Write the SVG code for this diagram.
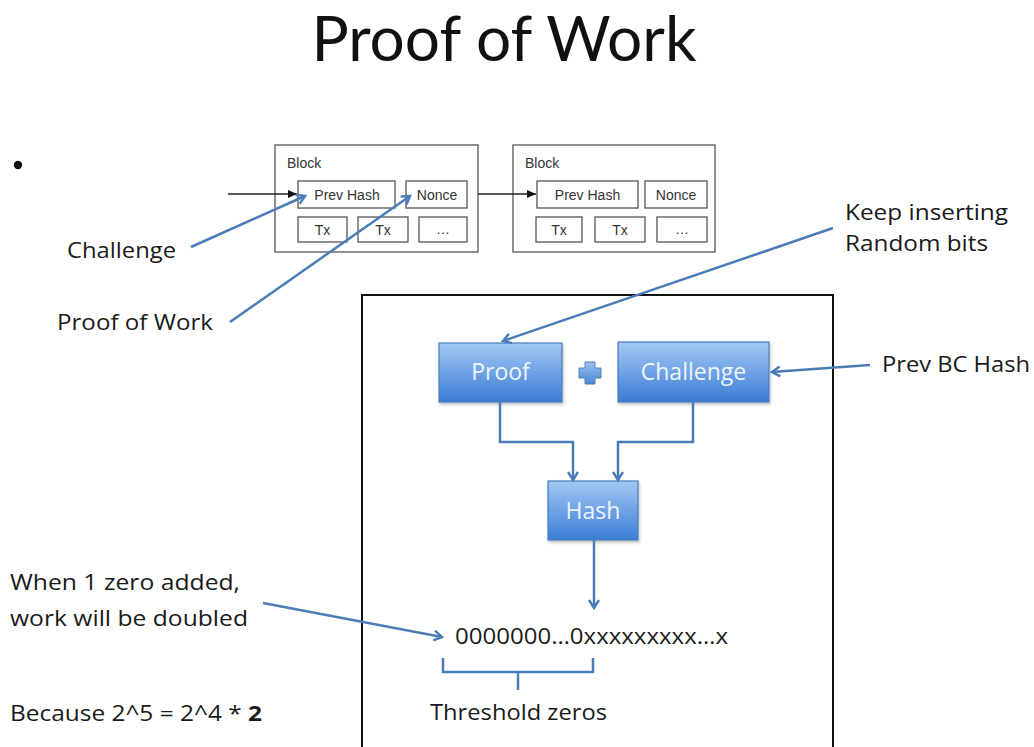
<svg xmlns="http://www.w3.org/2000/svg" width="1034" height="747" viewBox="0 0 1034 747">
  <style>
    .txt { font-family: "Open Sans", "Liberation Sans", sans-serif; fill: #1a1a1a; }
    .small { font-family: "Liberation Sans", Arial, sans-serif; font-size: 14px; fill: #333; }
    .blk { fill: #fff; stroke: #555; stroke-width: 1.3; }
    .box { fill: url(#boxGrad); stroke: #4a7ebb; stroke-width: 1.2; filter: url(#shadow); }
    .boxtxt { font-family: "Open Sans", "Liberation Sans", sans-serif; font-size: 23px; fill: #eef4fc; text-anchor: middle; }
    .blue { fill: none; stroke: #4a7cb8; stroke-width: 2.5; }
    .blk-line { fill: none; stroke: #222; stroke-width: 1.3; }
  </style>
  <defs>
    <linearGradient id="boxGrad" x1="0" y1="0" x2="0" y2="1">
      <stop offset="0" stop-color="#a3c7f2"/>
      <stop offset="0.5" stop-color="#6fa3e6"/>
      <stop offset="1" stop-color="#3c7bd3"/>
    </linearGradient>
    <linearGradient id="plusGrad" x1="0" y1="0" x2="0" y2="1">
      <stop offset="0" stop-color="#9cc2f0"/>
      <stop offset="1" stop-color="#4a85d6"/>
    </linearGradient>
    <filter id="shadow" x="-10%" y="-10%" width="130%" height="130%">
      <feDropShadow dx="1" dy="2" stdDeviation="1.5" flood-color="#000" flood-opacity="0.25"/>
    </filter>
    <marker id="openBlue" markerWidth="12" markerHeight="12" refX="9" refY="6" orient="auto" markerUnits="userSpaceOnUse">
      <path d="M1,1 L9,6 L1,11" fill="none" stroke="#4a7cb8" stroke-width="2.5"/>
    </marker>
    <marker id="solidBlack" markerWidth="10" markerHeight="10" refX="9" refY="5" orient="auto" markerUnits="userSpaceOnUse">
      <path d="M0,1 L9,5 L0,9 Z" fill="#111"/>
    </marker>
  </defs>

  <rect width="1034" height="747" fill="#fff"/>

  <!-- title -->
  <text x="504" y="61" font-family="Lato, 'Open Sans', sans-serif" font-size="62" fill="#111" text-anchor="middle" textLength="385" lengthAdjust="spacingAndGlyphs">Proof of Work</text>
  <circle cx="18" cy="165" r="4.2" fill="#111"/>

  <!-- block 1 -->
  <g id="block1">
    <rect class="blk" x="275" y="145" width="203" height="107"/>
    <text class="small" x="287" y="168" font-size="13">Block</text>
    <rect class="blk" x="298" y="181" width="97" height="27"/>
    <text class="small" x="347" y="200" text-anchor="middle">Prev Hash</text>
    <rect class="blk" x="406" y="181" width="61" height="27"/>
    <text class="small" x="437" y="200" text-anchor="middle">Nonce</text>
    <rect class="blk" x="298" y="217" width="49" height="25"/>
    <text class="small" x="322.5" y="235" text-anchor="middle">Tx</text>
    <rect class="blk" x="358" y="217" width="50" height="25"/>
    <text class="small" x="383" y="235" text-anchor="middle">Tx</text>
    <rect class="blk" x="419" y="217" width="48" height="25"/>
    <text class="small" x="443" y="234" text-anchor="middle" fill="#aaa" font-size="9">…</text>
  </g>

  <!-- block 2 -->
  <g id="block2">
    <rect class="blk" x="513" y="145" width="202" height="107"/>
    <text class="small" x="525" y="168" font-size="13">Block</text>
    <rect class="blk" x="537" y="181" width="101" height="27"/>
    <text class="small" x="587.5" y="200" text-anchor="middle">Prev Hash</text>
    <rect class="blk" x="645" y="181" width="62" height="27"/>
    <text class="small" x="676" y="200" text-anchor="middle">Nonce</text>
    <rect class="blk" x="536" y="217" width="46" height="25"/>
    <text class="small" x="559" y="235" text-anchor="middle">Tx</text>
    <rect class="blk" x="595" y="217" width="50" height="25"/>
    <text class="small" x="620" y="235" text-anchor="middle">Tx</text>
    <rect class="blk" x="657" y="217" width="50" height="25"/>
    <text class="small" x="682" y="234" text-anchor="middle" fill="#aaa" font-size="9">…</text>
  </g>

  <!-- outer frame -->
  <rect x="362" y="295" width="471" height="470" fill="none" stroke="#111" stroke-width="2"/>

  <!-- process boxes -->
  <g id="proof">
    <rect class="box" x="439" y="343" width="123" height="59"/>
    <text class="boxtxt" x="500.5" y="380">Proof</text>
  </g>
  <g id="plus">
    <path d="M585,362 h10 v6 h6 v10 h-6 v6 h-10 v-6 h-6 v-10 h6 Z" fill="url(#plusGrad)" stroke="#4a7ebb" stroke-width="1"/>
  </g>
  <g id="challenge">
    <rect class="box" x="618" y="342" width="151" height="60"/>
    <text class="boxtxt" x="693.5" y="380">Challenge</text>
  </g>
  <g id="hash">
    <rect class="box" x="548" y="481" width="90" height="59"/>
    <text class="boxtxt" x="593" y="519">Hash</text>
  </g>

  <!-- labels -->
  <g id="labels">
    <text class="txt" x="67" y="258" font-size="21" textLength="109" lengthAdjust="spacingAndGlyphs">Challenge</text>
    <text class="txt" x="57" y="330" font-size="21" textLength="156" lengthAdjust="spacingAndGlyphs">Proof of Work</text>
    <text class="txt" x="845" y="220" font-size="21" textLength="163" lengthAdjust="spacingAndGlyphs">Keep inserting</text>
    <text class="txt" x="845" y="251" font-size="21" textLength="143" lengthAdjust="spacingAndGlyphs">Random bits</text>
    <text class="txt" x="882" y="372" font-size="21" textLength="148" lengthAdjust="spacingAndGlyphs">Prev BC Hash</text>
    <text class="txt" x="455" y="644" font-size="21" textLength="273" lengthAdjust="spacingAndGlyphs">0000000…0xxxxxxxxx…x</text>
    <text class="txt" x="430" y="720" font-size="21" textLength="177" lengthAdjust="spacingAndGlyphs">Threshold zeros</text>
    <text class="txt" x="10" y="590" font-size="21" textLength="230" lengthAdjust="spacingAndGlyphs">When 1 zero added,</text>
    <text class="txt" x="10" y="626" font-size="21" textLength="238" lengthAdjust="spacingAndGlyphs">work will be doubled</text>
    <text class="txt" x="10" y="721" font-size="21" textLength="252" lengthAdjust="spacingAndGlyphs">Because 2^5 = 2^4 * <tspan font-weight="bold">2</tspan></text>
  </g>

  <!-- connectors -->
  <g id="connectors">
    <line class="blk-line" x1="228" y1="194" x2="297" y2="194" marker-end="url(#solidBlack)"/>
    <line class="blk-line" x1="478" y1="194" x2="536" y2="194" marker-end="url(#solidBlack)"/>
    <line class="blue" x1="191" y1="247" x2="305" y2="196" marker-end="url(#openBlue)"/>
    <line class="blue" x1="230" y1="322" x2="410" y2="196" marker-end="url(#openBlue)"/>
    <line class="blue" x1="833" y1="228" x2="503" y2="341" marker-end="url(#openBlue)"/>
    <line class="blue" x1="870" y1="365" x2="772" y2="372" marker-end="url(#openBlue)"/>
    <path class="blue" d="M500,402 V442 H573 V480" marker-end="url(#openBlue)"/>
    <path class="blue" d="M693,402 V442 H618 V480" marker-end="url(#openBlue)"/>
    <line class="blue" x1="594" y1="540" x2="594" y2="608" marker-end="url(#openBlue)"/>
    <line class="blue" x1="263" y1="603" x2="442" y2="637" marker-end="url(#openBlue)"/>
    <path class="blue" d="M443,658 V672 H593 V658 M518,672 V690"/>
  </g>
</svg>
